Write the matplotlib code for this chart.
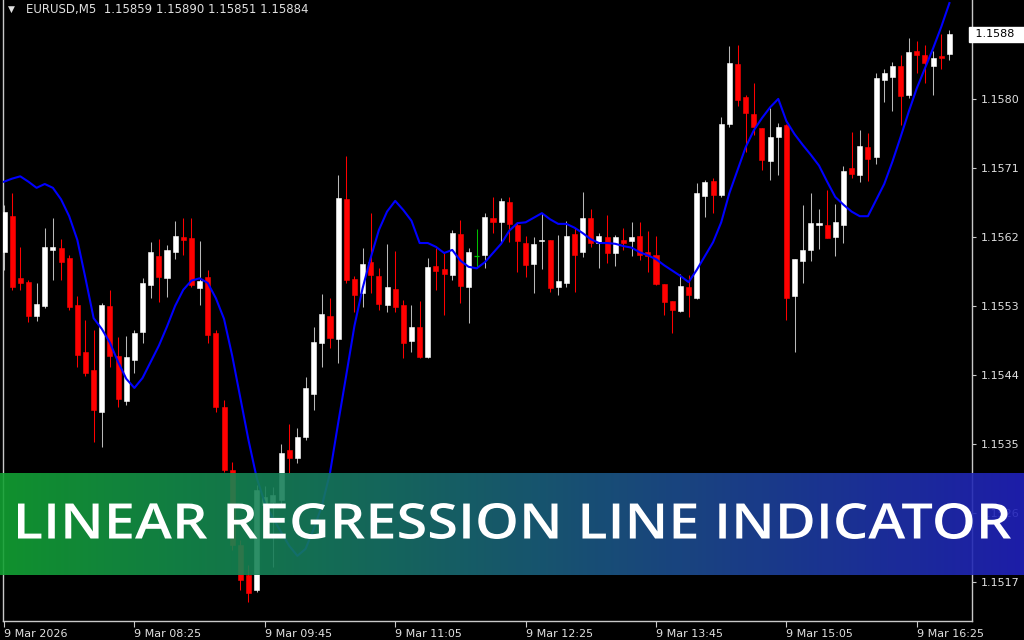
import matplotlib.pyplot as plt
import numpy as np
from matplotlib.font_manager import FontProperties
from matplotlib.patches import PathPatch
from matplotlib.textpath import TextPath
from matplotlib.transforms import Affine2D, blended_transform_factory

# EURUSD M5 candles, 9 Mar 2026 (index 0 = 07:05)
opens = [
    1.15600, 1.15647, 1.15566, 1.15561, 1.15517, 1.15530, 1.15603, 1.15606, 1.15593, 1.15531,
    1.15470, 1.15446, 1.15392, 1.15530, 1.15465, 1.15406, 1.15460, 1.15496, 1.15557, 1.15595,
    1.15566, 1.15600, 1.15620, 1.15619, 1.15553, 1.15568, 1.15495, 1.15398, 1.15316, 1.15218,
    1.15179, 1.15160, 1.15270, 1.15274, 1.15277, 1.15342, 1.15332, 1.15359, 1.15415, 1.15482,
    1.15517, 1.15487, 1.15669, 1.15565, 1.15547, 1.15587, 1.15569, 1.15531, 1.15552, 1.15531,
    1.15484, 1.15503, 1.15463, 1.15582, 1.15578, 1.15570, 1.15624, 1.15555, 1.15595, 1.15596,
    1.15645, 1.15639, 1.15666, 1.15636, 1.15612, 1.15585, 1.15615, 1.15616, 1.15555, 1.15560,
    1.15624, 1.15600, 1.15645, 1.15612, 1.15620, 1.15599, 1.15616, 1.15615, 1.15621, 1.15600,
    1.15596, 1.15559, 1.15536, 1.15523, 1.15555, 1.15540, 1.15673, 1.15693, 1.15675, 1.15767,
    1.15846, 1.15803, 1.15780, 1.15762, 1.15719, 1.15750, 1.15766, 1.15543, 1.15589, 1.15603,
    1.15636, 1.15636, 1.15620, 1.15636, 1.15710, 1.15701, 1.15737, 1.15724, 1.15825, 1.15829,
    1.15843, 1.15805, 1.15863, 1.15857, 1.15843, 1.15856, 1.15859,
]
highs = [
    1.15662, 1.15677, 1.15607, 1.15564, 1.15560, 1.15632, 1.15645, 1.15617, 1.15596, 1.15543,
    1.15512, 1.15499, 1.15534, 1.15551, 1.15490, 1.15491, 1.15499, 1.15566, 1.15613, 1.15617,
    1.15609, 1.15641, 1.15645, 1.15645, 1.15615, 1.15577, 1.15499, 1.15407, 1.15326, 1.15225,
    1.15192, 1.15296, 1.15295, 1.15294, 1.15350, 1.15376, 1.15371, 1.15437, 1.15503, 1.15546,
    1.15540, 1.15701, 1.15726, 1.15569, 1.15606, 1.15651, 1.15579, 1.15611, 1.15602, 1.15538,
    1.15531, 1.15536, 1.15593, 1.15606, 1.15599, 1.15629, 1.15642, 1.15606, 1.15630, 1.15651,
    1.15672, 1.15671, 1.15672, 1.15638, 1.15621, 1.15620, 1.15651, 1.15616, 1.15623, 1.15641,
    1.15632, 1.15679, 1.15656, 1.15625, 1.15649, 1.15623, 1.15632, 1.15639, 1.15639, 1.15628,
    1.15621, 1.15559, 1.15536, 1.15572, 1.15570, 1.15690, 1.15694, 1.15697, 1.15776, 1.15869,
    1.15870, 1.15805, 1.15821, 1.15762, 1.15788, 1.15769, 1.15767, 1.15591, 1.15662, 1.15677,
    1.15656, 1.15681, 1.15663, 1.15713, 1.15757, 1.15759, 1.15756, 1.15834, 1.15839, 1.15848,
    1.15857, 1.15879, 1.15876, 1.15870, 1.15863, 1.15885, 1.15890,
]
lows = [
    1.15577, 1.15551, 1.15551, 1.15509, 1.15510, 1.15527, 1.15564, 1.15564, 1.15525, 1.15450,
    1.15439, 1.15353, 1.15346, 1.15450, 1.15398, 1.15401, 1.15443, 1.15482, 1.15540, 1.15535,
    1.15542, 1.15591, 1.15596, 1.15555, 1.15531, 1.15482, 1.15392, 1.15313, 1.15212, 1.15160,
    1.15144, 1.15157, 1.15257, 1.15190, 1.15270, 1.15312, 1.15325, 1.15355, 1.15394, 1.15450,
    1.15475, 1.15456, 1.15560, 1.15522, 1.15529, 1.15547, 1.15525, 1.15522, 1.15522, 1.15462,
    1.15470, 1.15462, 1.15462, 1.15551, 1.15518, 1.15564, 1.15534, 1.15508, 1.15579, 1.15579,
    1.15625, 1.15613, 1.15613, 1.15574, 1.15568, 1.15547, 1.15578, 1.15548, 1.15544, 1.15555,
    1.15548, 1.15594, 1.15607, 1.15579, 1.15586, 1.15582, 1.15603, 1.15595, 1.15590, 1.15574,
    1.15557, 1.15518, 1.15495, 1.15522, 1.15516, 1.15539, 1.15646, 1.15651, 1.15672, 1.15763,
    1.15791, 1.15731, 1.15753, 1.15707, 1.15694, 1.15701, 1.15512, 1.15470, 1.15560, 1.15589,
    1.15604, 1.15619, 1.15595, 1.15612, 1.15697, 1.15692, 1.15693, 1.15715, 1.15796, 1.15784,
    1.15766, 1.15801, 1.15834, 1.15821, 1.15805, 1.15839, 1.15851,
]
closes = [
    1.15653, 1.15555, 1.15560, 1.15517, 1.15533, 1.15607, 1.15607, 1.15587, 1.15529, 1.15466,
    1.15443, 1.15394, 1.15531, 1.15465, 1.15409, 1.15463, 1.15495, 1.15560, 1.15600, 1.15568,
    1.15603, 1.15621, 1.15616, 1.15557, 1.15563, 1.15492, 1.15398, 1.15316, 1.15218, 1.15173,
    1.15156, 1.15290, 1.15281, 1.15283, 1.15338, 1.15332, 1.15359, 1.15423, 1.15483, 1.15519,
    1.15488, 1.15671, 1.15564, 1.15544, 1.15585, 1.15570, 1.15533, 1.15555, 1.15529, 1.15482,
    1.15503, 1.15463, 1.15581, 1.15576, 1.15572, 1.15625, 1.15556, 1.15600, 1.15595, 1.15646,
    1.15639, 1.15667, 1.15637, 1.15615, 1.15583, 1.15611, 1.15616, 1.15553, 1.15563, 1.15621,
    1.15596, 1.15645, 1.15612, 1.15621, 1.15599, 1.15620, 1.15612, 1.15620, 1.15596, 1.15595,
    1.15559, 1.15535, 1.15525, 1.15556, 1.15544, 1.15677, 1.15692, 1.15675, 1.15767, 1.15847,
    1.15799, 1.15782, 1.15763, 1.15720, 1.15750, 1.15763, 1.15540, 1.15591, 1.15603, 1.15638,
    1.15638, 1.15619, 1.15639, 1.15706, 1.15702, 1.15739, 1.15722, 1.15827, 1.15834, 1.15843,
    1.15804, 1.15861, 1.15857, 1.15847, 1.15853, 1.15853, 1.15884,
]

# linear regression line indicator, one value per bar
lr_line = [
    1.15692, 1.15696, 1.15699, 1.15692, 1.15684, 1.15689, 1.15684, 1.15669, 1.15647, 1.15616,
    1.15566, 1.15514, 1.15500, 1.15482, 1.15457, 1.15435, 1.15423, 1.15436, 1.15457, 1.15478,
    1.15503, 1.15530, 1.15551, 1.15563, 1.15566, 1.15560, 1.15540, 1.15513, 1.15465, 1.15410,
    1.15355, 1.15306, 1.15273, 1.15253, 1.15235, 1.15217, 1.15204, 1.15213, 1.15239, 1.15269,
    1.15312, 1.15377, 1.15440, 1.15504, 1.15553, 1.15593, 1.15629, 1.15653, 1.15667, 1.15655,
    1.15641, 1.15612, 1.15612, 1.15607, 1.15599, 1.15603, 1.15589, 1.15581, 1.15579, 1.15587,
    1.15599, 1.15611, 1.15628, 1.15638, 1.15639, 1.15645, 1.15651, 1.15643, 1.15637, 1.15637,
    1.15632, 1.15625, 1.15617, 1.15612, 1.15612, 1.15611, 1.15608, 1.15606, 1.15600, 1.15596,
    1.15591, 1.15583, 1.15576, 1.15569, 1.15561, 1.15577, 1.15595, 1.15613, 1.15639, 1.15677,
    1.15707, 1.15737, 1.15759, 1.15775, 1.15789, 1.15800, 1.15771, 1.15754, 1.15740, 1.15727,
    1.15713, 1.15692, 1.15672, 1.15662, 1.15653, 1.15647, 1.15647, 1.15668, 1.15689, 1.15718,
    1.15750, 1.15783, 1.15814, 1.15840, 1.15866, 1.15894, 1.15925,
]

price_ticks = [1.1580, 1.1571, 1.1562, 1.1553, 1.1544, 1.1535, 1.1526, 1.1517]
time_ticks = [0, 16, 32, 48, 64, 80, 96, 112]
time_labels = ['9 Mar 2026', '9 Mar 08:25', '9 Mar 09:45', '9 Mar 11:05',
               '9 Mar 12:25', '9 Mar 13:45', '9 Mar 15:05', '9 Mar 16:25']
header = 'EURUSD,M5  1.15859 1.15890 1.15851 1.15884'
title = 'LINEAR REGRESSION LINE INDICATOR'

W, H = 1024, 640
fig = plt.figure(figsize=(W / 100, H / 100), dpi=100, facecolor='black')
ax = fig.add_axes([3 / W, 19 / H, 969 / W, 621 / H])
ax.set_facecolor('black')

o = np.array(opens)
h = np.array(highs)
l = np.array(lows)
c = np.array(closes)
x = np.arange(len(o))
up = c > o
down = c < o
flat = c == o

# wicks
wick_col = np.where(up, '#b8b8b8', np.where(down, '#ff0000', '#00c000'))
ax.vlines(x, l, h, colors=wick_col, linewidth=0.75, zorder=2)

# bodies
bw = 0.62
ax.bar(x[up], (c - o)[up], bottom=o[up], width=bw, color='white',
       edgecolor='white', linewidth=0.4, zorder=3)
ax.bar(x[down], (o - c)[down], bottom=c[down], width=bw, color='#ff0000',
       edgecolor='#ff0000', linewidth=0.4, zorder=3)
ax.hlines(o[flat], x[flat] - bw / 2, x[flat] + bw / 2, colors='#00c000',
          linewidth=0.9, zorder=3)

ax.plot(x, lr_line, color='#0000ff', linewidth=1.5, zorder=4)

ax.set_xlim(-0.12, 118.77)
ax.set_ylim(1.15119, 1.15929)

for side in ['left', 'right', 'bottom']:
    ax.spines[side].set_color('#c8c8c8')
    ax.spines[side].set_linewidth(1)
ax.spines['top'].set_visible(False)

ax.yaxis.tick_right()
ax.set_yticks(price_ticks)
ax.set_yticklabels([f'{p:.4f}' for p in price_ticks])
ax.tick_params(axis='y', direction='out', length=3, width=0.8, color='#c8c8c8',
               labelcolor='#e0e0e0', labelsize=8, pad=3)
ax.set_xticks(time_ticks)
ax.set_xticklabels(time_labels)
for lbl in ax.get_xticklabels():
    lbl.set_horizontalalignment('left')
ax.tick_params(axis='x', direction='out', length=4, width=0.8, color='#c8c8c8',
               labelcolor='#e0e0e0', labelsize=8, pad=2)

# current price tag
tr = blended_transform_factory(ax.transAxes, ax.transData)
ax.text(1.0, closes[-1], f' {closes[-1]:.4f}  ', transform=tr, ha='left', va='center',
        fontsize=8, color='black', clip_on=False, zorder=6,
        bbox=dict(boxstyle='square,pad=0.25', fc='white', ec='white'))

# header
fig.text(8 / W, 1 - 9 / H, '\u25bc', fontsize=6.5, color='#e0e0e0', va='center')
fig.text(26 / W, 1 - 9 / H, header, fontsize=8.5, color='#e0e0e0', va='center')

# gradient banner with title
bax = fig.add_axes([0, 0, 1, 1], zorder=10)
bax.set_xlim(0, W)
bax.set_ylim(H, 0)
bax.axis('off')
c0 = np.array([18, 162, 51]) / 255
c1 = np.array([33, 33, 188]) / 255
t = np.linspace(0, 1, 512)[:, None]
grad = (c0 * (1 - t) + c1 * t)[None, :, :]
bax.imshow(grad, extent=(0, W, 575, 473), aspect='auto', alpha=0.9,
           interpolation='bilinear')

tp = TextPath((0, 0), title, size=1,
              prop=FontProperties(family='Open Sans', weight='semibold'))
ext = tp.get_extents()
sx = (1011 - 18) / ext.width
sy = (539 - 503) / ext.height
trans = Affine2D().translate(-ext.x0, -ext.y0).scale(sx, -sy).translate(18, 539)
bax.add_patch(PathPatch(trans.transform_path(tp), facecolor='white', lw=0))

fig.savefig('out.png', dpi=100, facecolor='black')
